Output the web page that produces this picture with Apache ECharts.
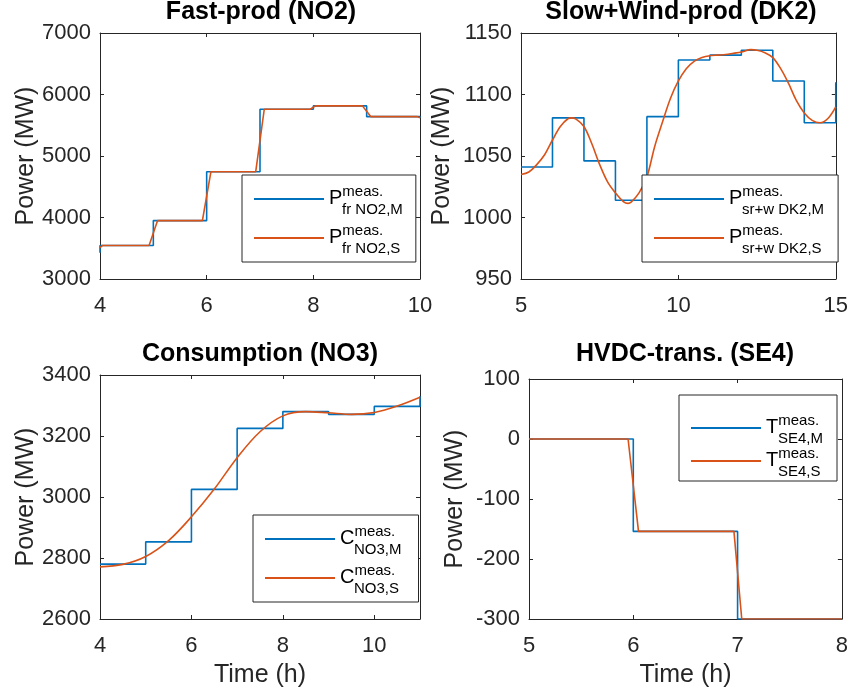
<!DOCTYPE html>
<html><head><meta charset="utf-8">
<script src="https://cdn.jsdelivr.net/npm/echarts@6/dist/echarts.min.js"></script>
<style>html,body{margin:0;padding:0;background:#fff}#c{width:851px;height:696px}</style>
</head><body><div id="c"></div>
<script>
// ---------- Data ----------
// Fast-prod (NO2)
const no2TimeM = [4, 4, 5, 6, 7, 8, 9, 10];
const no2ValM  = [3425, 3545, 3950, 4745, 5760, 5815, 5640, 5620];
const no2TimeS = [4, 4.05, 4.92, 5.08, 5.92, 6.08, 6.92, 7.08, 7.94, 8.04, 8.92, 9.08, 9.95, 10];
const no2ValS  = [3510, 3545, 3545, 3950, 3950, 4745, 4745, 5760, 5760, 5815, 5815, 5640, 5640, 5620];
// Slow+Wind-prod (DK2)
const dk2TimeM = [5, 6, 7, 8, 9, 10, 11, 12, 13, 14, 15];
const dk2ValM  = [1041, 1081, 1046, 1014, 1082, 1128, 1132, 1136, 1111, 1077, 1110];
const dk2TimeS = [5, 5.25, 5.5, 5.75, 6, 6.25, 6.5, 6.6, 6.75, 7, 7.25, 7.5, 7.75, 8, 8.25, 8.4, 8.5, 8.75, 9, 9.25, 9.5, 9.75, 10, 10.25, 10.5, 10.75, 11, 11.25, 11.5, 11.75, 12, 12.3, 12.5, 12.75, 13, 13.25, 13.5, 13.75, 14, 14.25, 14.5, 14.75, 15];
const dk2ValS  = [1035, 1037, 1043, 1051, 1063, 1074, 1080.5, 1081, 1080, 1074, 1060, 1043, 1029, 1020, 1013, 1011.5, 1012.5, 1020, 1033, 1058, 1078, 1097, 1111, 1121, 1127, 1130, 1131.5, 1132, 1132.5, 1133.5, 1134.5, 1136.5, 1136, 1134, 1130, 1121, 1109, 1095, 1085, 1079, 1077, 1080.5, 1090];
// Consumption (NO3)
const no3TimeM = [4, 5, 6, 7, 8, 9, 10, 11];
const no3ValM  = [2780, 2853, 3025, 3225, 3280, 3271, 3297, 3330];
const no3TimeS = [4, 4.5, 5, 5.5, 6, 6.5, 7, 7.5, 8, 8.5, 9, 9.5, 10, 10.5, 11];
const no3ValS  = [2771, 2779, 2805, 2857, 2935, 3026, 3129, 3214, 3266, 3280, 3276, 3271, 3277, 3298, 3327];
// HVDC-trans. (SE4)
const se4TimeM = [5, 6, 7, 8];
const se4ValM  = [0, -154, -300, -300];
const se4TimeS = [5, 5.95, 6.05, 6.965, 7.04, 8];
const se4ValS  = [0, 0, -154, -154, -300, -300];

// axis ticks
const xTicks = [[4, 10, 2], [5, 15, 5], [4, 11, 2], [5, 8, 1]];
const yTicks = [[3000, 7000, 1000], [950, 1150, 50], [2600, 3400, 200], [-300, 100, 100]];
const titles = ['Fast-prod (NO2)', 'Slow+Wind-prod (DK2)', 'Consumption (NO3)', 'HVDC-trans. (SE4)'];
const legendLabels = {
  NO2_M: '{P|P}{sup|meas.}\n{subP|fr NO2,M}',
  NO2_S: '{P|P}{sup|meas.}\n{subP|fr NO2,S}',
  DK2_M: '{P|P}{sup|meas.}\n{subP|sr+w DK2,M}',
  DK2_S: '{P|P}{sup|meas.}\n{subP|sr+w DK2,S}',
  NO3_M: '{P|C}{sup|meas.}\n{subC|NO3,M}',
  NO3_S: '{P|C}{sup|meas.}\n{subC|NO3,S}',
  SE4_M: '{P|T}{sup|meas.}\n{subT|SE4,M}',
  SE4_S: '{P|T}{sup|meas.}\n{subT|SE4,S}'
};

// ---------- Layout ----------
const FF = '"Liberation Sans", Arial, Helvetica, sans-serif';
const AX = '#262626';
const BLUE = '#0072BD', ORANGE = '#D95319';
const grids = [
  {left: 100, top: 33, width: 320, height: 246},
  {left: 521, top: 33, width: 321, height: 246},
  {left: 100, top: 375, width: 320, height: 244},
  {left: 529, top: 379, width: 313, height: 240}
];
const yNameGap = [61, 66, 61, 61];
const titleCenters = [261, 681, 260, 685];
const titleTops = [0, 0, 342, 342];
const legendPos = [[242, 175], [642, 175], [253, 515], [679, 395]];
const legendPad = [[9, 13, 6, 11], [9, 14, 6, 11], [9, 17, 6, 11], [18, 14, 2, 11]];
const legendGap = [6, 6, 6, 0];

const zip = (a, b) => a.map((v, i) => [v, b[i]]);

const xAxes = [], yAxes = [];
grids.forEach((g, i) => {
  const [xmin, xmax, xint] = xTicks[i];
  const [ymin, ymax, yint] = yTicks[i];
  const common = {
    gridIndex: i,
    axisLine: {show: true, onZero: false, lineStyle: {color: AX, width: 1}},
    axisTick: {show: true, inside: true, length: 4, lineStyle: {color: AX}},
    splitLine: {show: false}
  };
  xAxes.push(Object.assign({}, common, {
    type: 'value', position: 'bottom', min: xmin, max: xmax, interval: xint,
    axisLabel: {show: true, color: AX, fontSize: 22, fontFamily: FF, margin: 16, showMaxLabel: i !== 2,
      formatter: v => String(v)},
    name: i >= 2 ? 'Time (h)' : '', nameLocation: 'middle', nameGap: 44, nameMoveOverlap: false,
    nameTextStyle: {color: AX, fontSize: 25, fontFamily: FF}
  }));
  xAxes.push(Object.assign({}, common, {
    type: 'value', position: 'top', min: xmin, max: xmax, interval: xint,
    axisLabel: {show: false}
  }));
  yAxes.push(Object.assign({}, common, {
    type: 'value', position: 'left', min: ymin, max: ymax, interval: yint,
    axisLabel: {show: true, color: AX, fontSize: 22, fontFamily: FF, margin: 9,
      formatter: v => String(v)},
    name: 'Power (MW)', nameLocation: 'middle', nameGap: yNameGap[i], nameMoveOverlap: false,
    nameTextStyle: {color: AX, fontSize: 25, fontFamily: FF}
  }));
  yAxes.push(Object.assign({}, common, {
    type: 'value', position: 'right', min: ymin, max: ymax, interval: yint,
    axisLabel: {show: false}
  }));
});

const seriesDefs = [
  ['NO2_M', 0, zip(no2TimeM, no2ValM), BLUE, true, false],
  ['NO2_S', 0, zip(no2TimeS, no2ValS), ORANGE, false, false],
  ['DK2_M', 1, zip(dk2TimeM, dk2ValM), BLUE, true, false],
  ['DK2_S', 1, zip(dk2TimeS, dk2ValS), ORANGE, false, true],
  ['NO3_M', 2, zip(no3TimeM, no3ValM), BLUE, true, false],
  ['NO3_S', 2, zip(no3TimeS, no3ValS), ORANGE, false, true],
  ['SE4_M', 3, zip(se4TimeM, se4ValM), BLUE, true, false],
  ['SE4_S', 3, zip(se4TimeS, se4ValS), ORANGE, false, false]
];
const series = seriesDefs.map(([name, gi, data, color, isStep, smooth]) => ({
  type: 'line', name, xAxisIndex: gi * 2, yAxisIndex: gi * 2, data,
  step: isStep ? 'end' : false, smooth: smooth ? 0.35 : false,
  symbol: 'none', showSymbol: false, animation: false,
  lineStyle: {color, width: 1.6}, itemStyle: {color}
}));

const rich = {
  P: {fontSize: 20, fontFamily: FF, color: '#000', height: 1, lineHeight: 1, verticalAlign: 'bottom'},
  sup: {fontSize: 15, fontFamily: FF, color: '#000', lineHeight: 18, verticalAlign: 'bottom'},
  subP: {fontSize: 15, fontFamily: FF, color: '#000', lineHeight: 18, verticalAlign: 'bottom', padding: [0, 0, 0, 13]},
  subC: {fontSize: 15, fontFamily: FF, color: '#000', lineHeight: 18, verticalAlign: 'bottom', padding: [0, 0, 0, 14]},
  subT: {fontSize: 15, fontFamily: FF, color: '#000', lineHeight: 18, verticalAlign: 'bottom', padding: [0, 0, 0, 12]}
};
const legends = legendPos.map((p, i) => ({
  data: [seriesDefs[i * 2][0], seriesDefs[i * 2 + 1][0]],
  left: p[0], top: p[1], orient: 'vertical',
  itemWidth: 70, itemHeight: 14, itemGap: legendGap[i],
  padding: legendPad[i],
  borderColor: AX, borderWidth: 1, backgroundColor: '#fff',
  selectedMode: false,
  itemStyle: {opacity: 0},
  formatter: (n) => legendLabels[n],
  textStyle: {rich, fontFamily: FF, fontSize: 15, color: '#000'}
}));

const chart = echarts.init(document.getElementById('c'), null, {renderer: 'canvas'});
chart.setOption({
  backgroundColor: '#fff',
  animation: false,
  title: titles.map((t, i) => ({
    text: t, left: titleCenters[i], top: titleTops[i], textAlign: 'center', padding: 0,
    textStyle: {fontSize: 25, fontWeight: 'bold', color: '#000', fontFamily: FF}
  })),
  grid: grids,
  xAxis: xAxes,
  yAxis: yAxes,
  legend: legends,
  series
});
</script></body></html>
